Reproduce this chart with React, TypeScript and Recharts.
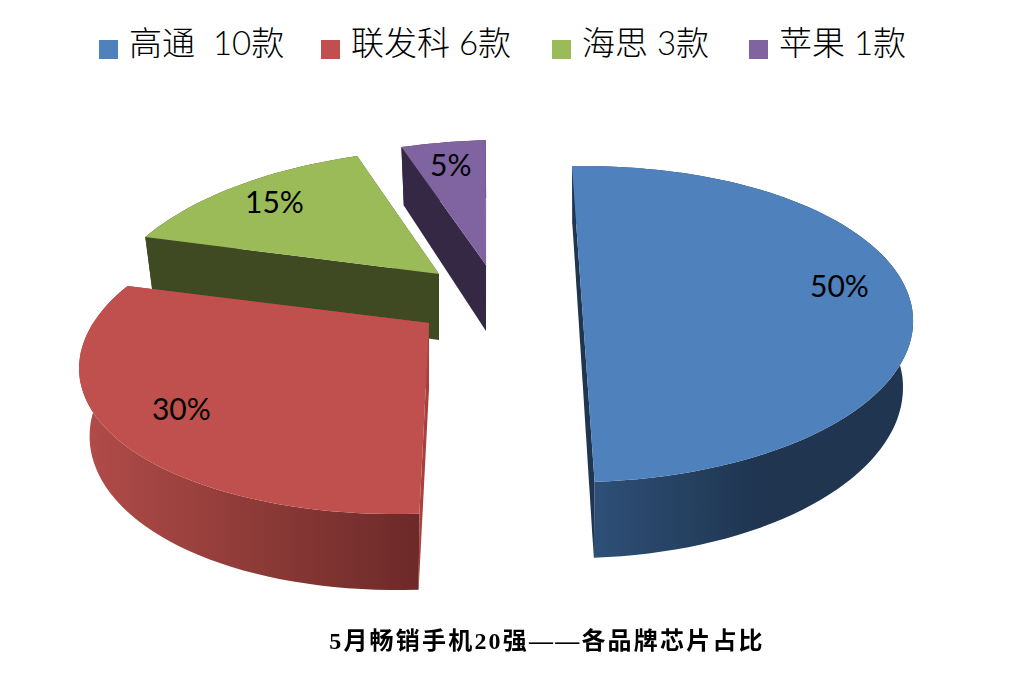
import { Pie, PieChart, Legend } from "recharts";

const categories = ["高通  10款", "联发科 6款", "海思 3款", "苹果 1款"];
const values = [10, 6, 3, 1];
const colors = ["#4F81BD", "#C0504D", "#9BBB59", "#8064A2"];
const title = "5月畅销手机20强——各品牌芯片占比";

// per slice 3D look: pull-out from the pie centre, horizontal convergence, width scale
const SLICE: Record<string, { dx: number; dy: number; conv: number; sx: number; side: string; label: [number, number] }> = {
  [categories[0]]: { dx: 76, dy: 0, conv: -30, sx: 1, side: "#1F3550", label: [0, 0] },
  [categories[1]]: { dx: -76, dy: 32, conv: -120, sx: 1.03, side: "#A8403D", label: [0, 0] },
  [categories[2]]: { dx: -66, dy: -17, conv: -96, sx: 1, side: "#3F4A22", label: [0, 0] },
  [categories[3]]: { dx: -19, dy: -26, conv: -80, sx: 1, side: "#352845", label: [0, 0] },
};
const LEGEND_X = [99, 321, 552, 749];

const TILT = 151 / 326;
const PERSP = 0.21;
const DROP = 0.03;
const DEPTH = 68;

// drawing order is back to front, so the table runs the other way round
const table = categories.map((name, i) => ({ name, value: values[i], fill: colors[i] })).reverse();

function project(name: string, cx: number, cy: number, r: number, deg: number, rho: number, z: number) {
  const s = SLICE[name];
  const a = (deg * Math.PI) / 180;
  const u = rho * Math.cos(a);
  const v = -rho * Math.sin(a);
  const w0 = 1 - PERSP * v;
  const w = w0 + DROP * z;
  return [cx + s.dx + (r * s.sx * u) / w + s.conv * (1 / w0 - 1), cy + s.dy + (r * TILT * v + DEPTH * z) / w];
}

const toPath = (pts: number[][]) => "M" + pts.map((p) => `${p[0].toFixed(1)},${p[1].toFixed(1)}`).join("L") + "Z";

function Slice3D(props: any) {
  const { cx, cy, outerRadius: r, startAngle, endAngle, name, fill } = props;
  const p = (deg: number, rho: number, z: number) => project(name, cx, cy, r, deg, rho, z);
  const steps = Math.ceil(Math.abs(endAngle - startAngle) / 2);
  const angles = Array.from({ length: steps + 1 }, (_, i) => startAngle + ((endAngle - startAngle) * i) / steps);
  const top = angles.map((d) => p(d, 1, 0));
  const bottom = angles.map((d) => p(d, 1, 1));
  const apexTop = p(0, 0, 0);
  const apexBottom = p(0, 0, 1);
  const side = SLICE[name].side;
  const wallFill = name === categories[0] ? "url(#wallBlue)" : name === categories[1] ? "url(#wallRed)" : side;
  return (
    <g>
      <path d={toPath([...top, ...bottom.slice().reverse()])} fill={wallFill} />
      <path d={toPath([apexTop, top[0], bottom[0], apexBottom])} fill={side} />
      <path d={toPath([apexTop, top[top.length - 1], bottom[bottom.length - 1], apexBottom])} fill={side} />
      <path d={toPath([apexTop, ...top])} fill={fill} />
    </g>
  );
}

function renderLabel(props: any) {
  const { cx, cy, outerRadius: r, midAngle, name, percent } = props;
  const [x, y] = project(name, cx, cy, r, midAngle, 0.8, 0);
  const [dx, dy] = SLICE[name].label;
  return (
    <text x={x + dx} y={y + dy} textAnchor="middle" dominantBaseline="central" fill="#000" fontFamily="Lato" fontSize={30}>
      {Math.round(percent * 100)}%
    </text>
  );
}

function LegendRow() {
  return (
    <div style={{ position: "relative", width: 1010, height: 80 }}>
      {categories.map((name, i) => (
        <div key={name} style={{ position: "absolute", left: LEGEND_X[i], top: 17, display: "flex", alignItems: "center", whiteSpace: "pre" }}>
          <span style={{ width: 19, height: 19, background: colors[i], marginTop: 16, marginRight: 11 }} />
          <span style={{ fontFamily: "Lato, 'Noto Sans CJK SC'", fontWeight: 300, fontSize: 33, color: "#000" }}>{name}</span>
        </div>
      ))}
    </div>
  );
}

export default function App() {
  return (
    <div style={{ position: "fixed", left: 0, top: 0, width: 1010, height: 693, background: "#fff" }}>
      <PieChart width={1010} height={693} margin={{ top: 0, right: 0, bottom: 0, left: 0 }}>
        <defs>
          <linearGradient id="wallBlue" gradientUnits="userSpaceOnUse" x1="590" y1="0" x2="760" y2="0">
            <stop offset="0" stopColor="#2E5078" />
            <stop offset="1" stopColor="#1F3550" />
          </linearGradient>
          <linearGradient id="wallRed" gradientUnits="userSpaceOnUse" x1="90" y1="0" x2="417" y2="0">
            <stop offset="0" stopColor="#B04B48" />
            <stop offset="1" stopColor="#6C2A28" />
          </linearGradient>
        </defs>
        <Pie
          data={table}
          dataKey="value"
          nameKey="name"
          cx={505}
          cy={291}
          outerRadius={326}
          startAngle={93}
          endAngle={453}
          stroke="none"
          shape={Slice3D}
          label={renderLabel}
          labelLine={false}
          isAnimationActive={false}
        />
        <Legend content={<LegendRow />} wrapperStyle={{ left: 0, top: 0, width: 1010 }} />
      </PieChart>
      <div
        style={{
          position: "absolute",
          left: 0,
          width: 1094,
          top: 621,
          textAlign: "center",
          fontFamily: "'Liberation Serif', 'Noto Sans CJK SC'",
          fontWeight: 700,
          fontSize: 24,
          letterSpacing: 2.2,
          color: "#000",
        }}
      >
        {title}
      </div>
    </div>
  );
}
